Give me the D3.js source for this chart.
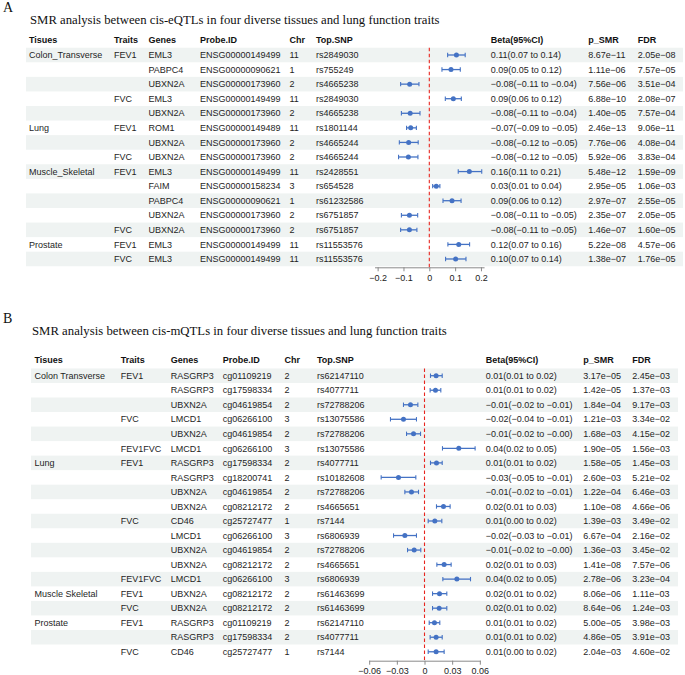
<!DOCTYPE html>
<html>
<head>
<meta charset="utf-8">
<script src="https://cdn.jsdelivr.net/npm/d3@7/dist/d3.min.js"></script>
<style>
  html, body { margin: 0; padding: 0; background: #ffffff; }
  svg { display: block; }
</style>
</head>
<body>
<svg id="chart" width="685" height="675"></svg>
<script>
// ---------------- Panel A data (cis-eQTLs) ----------------
const headersA = ["Tisues", "Traits", "Genes", "Probe.ID", "Chr", "Top.SNP", "Beta(95%CI)", "p_SMR", "FDR"];
const tissuesA = ["Colon_Transverse", "", "", "", "", "Lung", "", "", "Muscle_Skeletal", "", "", "", "", "Prostate", ""];
const traitsA  = ["FEV1", "", "", "FVC", "", "FEV1", "", "FVC", "FEV1", "", "", "", "FVC", "FEV1", "FVC"];
const genesA   = ["EML3", "PABPC4", "UBXN2A", "EML3", "UBXN2A", "ROM1", "UBXN2A", "UBXN2A", "EML3", "FAIM", "PABPC4", "UBXN2A", "UBXN2A", "EML3", "EML3"];
const probesA  = ["ENSG00000149499", "ENSG00000090621", "ENSG00000173960", "ENSG00000149499", "ENSG00000173960",
                  "ENSG00000149489", "ENSG00000173960", "ENSG00000173960", "ENSG00000149499", "ENSG00000158234",
                  "ENSG00000090621", "ENSG00000173960", "ENSG00000173960", "ENSG00000149499", "ENSG00000149499"];
const chrA     = ["11", "1", "2", "11", "2", "11", "2", "2", "11", "3", "1", "2", "2", "11", "11"];
const snpsA    = ["rs2849030", "rs755249", "rs4665238", "rs2849030", "rs4665238", "rs1801144", "rs4665244", "rs4665244",
                  "rs2428551", "rs654528", "rs61232586", "rs6751857", "rs6751857", "rs11553576", "rs11553576"];
const betaA    = [0.105, 0.084, -0.076, 0.093, -0.074, -0.072, -0.080, -0.081, 0.155, 0.027, 0.088, -0.077, -0.077, 0.114, 0.102];
const lowerA   = [0.071, 0.049, -0.111, 0.062, -0.108, -0.088, -0.116, -0.119, 0.112, 0.013, 0.053, -0.108, -0.111, 0.072, 0.063];
const upperA   = [0.139, 0.120, -0.040, 0.124, -0.036, -0.050, -0.043, -0.044, 0.203, 0.041, 0.123, -0.045, -0.048, 0.156, 0.142];
const betaTextA = ["0.11(0.07 to 0.14)", "0.09(0.05 to 0.12)", "−0.08(−0.11 to −0.04)", "0.09(0.06 to 0.12)", "−0.08(−0.11 to −0.04)",
                   "−0.07(−0.09 to −0.05)", "−0.08(−0.12 to −0.05)", "−0.08(−0.12 to −0.05)", "0.16(0.11 to 0.21)", "0.03(0.01 to 0.04)",
                   "0.09(0.06 to 0.12)", "−0.08(−0.11 to −0.05)", "−0.08(−0.11 to −0.05)", "0.12(0.07 to 0.16)", "0.10(0.07 to 0.14)"];
const pA   = ["8.67e−11", "1.11e−06", "7.56e−06", "6.88e−10", "1.40e−05", "2.46e−13", "7.76e−06", "5.92e−06",
              "5.48e−12", "2.95e−05", "2.97e−07", "2.35e−07", "1.46e−07", "5.22e−08", "1.38e−07"];
const fdrA = ["2.05e−08", "7.57e−05", "3.51e−04", "2.08e−07", "7.57e−04", "9.06e−11", "4.08e−04", "3.83e−04",
              "1.59e−09", "1.06e−03", "2.55e−05", "2.05e−05", "1.60e−05", "4.57e−06", "1.76e−05"];
const ticksA = [-0.2, -0.1, 0, 0.1, 0.2];

// ---------------- Panel B data (cis-mQTLs) ----------------
const headersB = ["Tisues", "Traits", "Genes", "Probe.ID", "Chr", "Top.SNP", "Beta(95%CI)", "p_SMR", "FDR"];
const tissuesB = ["Colon Transverse", "", "", "", "", "", "Lung", "", "", "", "", "", "", "", "", "Muscle Skeletal", "", "Prostate", "", ""];
const traitsB  = ["FEV1", "", "", "FVC", "", "FEV1FVC", "FEV1", "", "", "", "FVC", "", "", "", "FEV1FVC", "FEV1", "FVC", "FEV1", "", "FVC"];
const genesB   = ["RASGRP3", "RASGRP3", "UBXN2A", "LMCD1", "UBXN2A", "LMCD1", "RASGRP3", "RASGRP3", "UBXN2A", "UBXN2A",
                  "CD46", "LMCD1", "UBXN2A", "UBXN2A", "LMCD1", "UBXN2A", "UBXN2A", "RASGRP3", "RASGRP3", "CD46"];
const probesB  = ["cg01109219", "cg17598334", "cg04619854", "cg06266100", "cg04619854", "cg06266100", "cg17598334", "cg18200741",
                  "cg04619854", "cg08212172", "cg25727477", "cg06266100", "cg04619854", "cg08212172", "cg06266100", "cg08212172",
                  "cg08212172", "cg01109219", "cg17598334", "cg25727477"];
const chrB     = ["2", "2", "2", "3", "2", "3", "2", "2", "2", "2", "1", "3", "2", "2", "3", "2", "2", "2", "2", "1"];
const snpsB    = ["rs62147110", "rs4077711", "rs72788206", "rs13075586", "rs72788206", "rs13075586", "rs4077711", "rs10182608",
                  "rs72788206", "rs4665651", "rs7144", "rs6806939", "rs72788206", "rs4665651", "rs6806939", "rs61463699",
                  "rs61463699", "rs62147110", "rs4077711", "rs7144"];
const betaB    = [0.0126, 0.0119, -0.0152, -0.0228, -0.0119, 0.0372, 0.0130, -0.0282, -0.0141, 0.0206,
                  0.0112, -0.0213, -0.0112, 0.0213, 0.0351, 0.0163, 0.0159, 0.0108, 0.0126, 0.0126];
const lowerB   = [0.0065, 0.0061, -0.0228, -0.0369, -0.0195, 0.0195, 0.0065, -0.0470, -0.0213, 0.0130,
                  0.0040, -0.0336, -0.0184, 0.0134, 0.0199, 0.0087, 0.0087, 0.0051, 0.0061, 0.0040];
const upperB   = [0.0192, 0.0177, -0.0072, -0.0087, -0.0043, 0.0549, 0.0192, -0.0094, -0.0065, 0.0278,
                  0.0188, -0.0087, -0.0040, 0.0289, 0.0499, 0.0242, 0.0242, 0.0166, 0.0192, 0.0213];
const betaTextB = ["0.01(0.01 to 0.02)", "0.01(0.01 to 0.02)", "−0.01(−0.02 to −0.01)", "−0.02(−0.04 to −0.01)", "−0.01(−0.02 to −0.00)",
                   "0.04(0.02 to 0.05)", "0.01(0.01 to 0.02)", "−0.03(−0.05 to −0.01)", "−0.01(−0.02 to −0.01)", "0.02(0.01 to 0.03)",
                   "0.01(0.00 to 0.02)", "−0.02(−0.03 to −0.01)", "−0.01(−0.02 to −0.00)", "0.02(0.01 to 0.03)", "0.04(0.02 to 0.05)",
                   "0.02(0.01 to 0.02)", "0.02(0.01 to 0.02)", "0.01(0.01 to 0.02)", "0.01(0.01 to 0.02)", "0.01(0.00 to 0.02)"];
const pB   = ["3.17e−05", "1.42e−05", "1.84e−04", "1.21e−03", "1.68e−03", "1.90e−05", "1.58e−05", "2.60e−03", "1.22e−04", "1.10e−08",
              "1.39e−03", "6.67e−04", "1.36e−03", "1.41e−08", "2.78e−06", "8.06e−06", "8.64e−06", "5.00e−05", "4.86e−05", "2.04e−03"];
const fdrB = ["2.45e−03", "1.37e−03", "9.17e−03", "3.34e−02", "4.15e−02", "1.56e−03", "1.45e−03", "5.21e−02", "6.46e−03", "4.66e−06",
              "3.49e−02", "2.16e−02", "3.45e−02", "7.57e−06", "3.23e−04", "1.11e−03", "1.24e−03", "3.98e−03", "3.91e−03", "4.60e−02"];
const ticksB = [-0.06, -0.03, 0, 0.03, 0.06];

const titleA = "SMR analysis between cis-eQTLs in four diverse tissues and lung function traits";
const titleB = "SMR analysis between cis-mQTLs in four diverse tissues and lung function traits";

// ---------------- drawing ----------------
const svg = d3.select("#chart");
svg.append("rect").attr("width", 685).attr("height", 675).attr("fill", "#ffffff");

const SANS = "'Liberation Sans', Arial, Helvetica, sans-serif";
const SERIF = "'Liberation Serif', 'Times New Roman', Times, serif";
const BAND = "#eff3f2";
const BLUE = "#4472c4";
const TEXT = "#1e1e1e";

function drawPanel(p) {
  const g = svg.append("g");
  const n = p.genes.length;

  // panel letter
  g.append("text").attr("x", p.letterX).attr("y", p.letterY)
    .attr("font-family", SERIF).attr("font-size", 14).attr("fill", "#111").text(p.letter);

  // title, fitted to measured width
  const t = g.append("text").attr("x", p.titleX).attr("y", p.titleY)
    .attr("font-family", SERIF).attr("font-size", 12).attr("fill", "#111").text(p.title);
  const w = t.node().getComputedTextLength();
  t.attr("font-size", 12 * p.titleW / w);

  // row scale
  const y = d3.scaleBand().domain(d3.range(n))
    .range([p.row0 - p.rowH / 2, p.row0 - p.rowH / 2 + n * p.rowH]).paddingInner(0).paddingOuter(0);
  const yc = i => y(i) + y.bandwidth() / 2;

  // bands
  g.append("g").selectAll("rect").data(d3.range(n).filter(i => i % 2 === 0)).join("rect")
    .attr("x", p.bandX0).attr("width", p.bandX1 - p.bandX0)
    .attr("y", i => y(i)).attr("height", y.bandwidth())
    .attr("fill", BAND);

  // columns
  const cols = [
    { x: p.colX[0], vals: p.tissues },
    { x: p.colX[1], vals: p.traits },
    { x: p.colX[2], vals: p.genes },
    { x: p.colX[3], vals: p.probes },
    { x: p.colX[4], vals: p.chr },
    { x: p.colX[5], vals: p.snps },
    { x: p.colX[6], vals: p.betaText },
    { x: p.colX[7], vals: p.pvals },
    { x: p.colX[8], vals: p.fdr }
  ];
  cols.forEach((c, ci) => {
    g.append("text").attr("x", c.x).attr("y", p.headerY).attr("dy", "0.35em")
      .attr("font-family", SANS).attr("font-size", 9).attr("font-weight", "bold")
      .attr("fill", "#111").text(p.headers[ci]);
    g.append("g").selectAll("text").data(c.vals).join("text")
      .attr("x", c.x).attr("y", (d, i) => yc(i)).attr("dy", "0.35em")
      .attr("font-family", SANS).attr("font-size", 9).attr("fill", TEXT)
      .text(d => d);
  });

  // x scale
  const x = d3.scaleLinear().domain(p.domain).range(p.range);

  // reference line
  g.append("line").attr("x1", x(0)).attr("x2", x(0))
    .attr("y1", y(0)).attr("y2", p.axisY)
    .attr("stroke", "#e8251f").attr("stroke-width", 1.1).attr("stroke-dasharray", "3.5,2.5");

  // CIs
  const ci = g.append("g");
  const idx = d3.range(n);
  ci.selectAll("line.ci").data(idx).join("line").attr("class", "ci")
    .attr("x1", i => x(p.lower[i])).attr("x2", i => x(p.upper[i]))
    .attr("y1", yc).attr("y2", yc)
    .attr("stroke", BLUE).attr("stroke-width", 1.3);
  ci.selectAll("line.capl").data(idx).join("line").attr("class", "capl")
    .attr("x1", i => x(p.lower[i])).attr("x2", i => x(p.lower[i]))
    .attr("y1", i => yc(i) - 2.2).attr("y2", i => yc(i) + 2.2)
    .attr("stroke", BLUE).attr("stroke-width", 1.1);
  ci.selectAll("line.capu").data(idx).join("line").attr("class", "capu")
    .attr("x1", i => x(p.upper[i])).attr("x2", i => x(p.upper[i]))
    .attr("y1", i => yc(i) - 2.2).attr("y2", i => yc(i) + 2.2)
    .attr("stroke", BLUE).attr("stroke-width", 1.1);
  ci.selectAll("circle").data(idx).join("circle")
    .attr("cx", i => x(p.beta[i])).attr("cy", yc).attr("r", 2.5)
    .attr("fill", BLUE);

  // axis
  const ax = g.append("g").attr("transform", `translate(0,${p.axisY})`)
    .call(d3.axisBottom(x).tickValues(p.ticks).tickFormat(d3.format("~g")).tickSize(4).tickSizeOuter(0).tickPadding(3));
  ax.select(".domain").attr("stroke", "#8a8a8a").attr("stroke-width", 1);
  ax.selectAll(".tick line").attr("stroke", "#8a8a8a");
  ax.selectAll(".tick text").attr("font-family", SANS).attr("font-size", 9).attr("fill", "#222");
}

drawPanel({
  letter: "A", letterX: 3, letterY: 12,
  title: titleA, titleX: 30, titleY: 23.5, titleW: 410,
  headers: headersA, headerY: 40,
  row0: 55, rowH: 14.57, bandX0: 26, bandX1: 683,
  colX: [29, 114, 148.5, 200, 289.5, 316, 490.7, 588.3, 637.7],
  tissues: tissuesA, traits: traitsA, genes: genesA, probes: probesA, chr: chrA, snps: snpsA,
  betaText: betaTextA, pvals: pA, fdr: fdrA,
  beta: betaA, lower: lowerA, upper: upperA,
  domain: [-0.212, 0.212], range: [429.3 - 0.212 * 258.3, 429.3 + 0.212 * 258.3],
  ticks: ticksA, axisY: 267.3
});

drawPanel({
  letter: "B", letterX: 3, letterY: 322.5,
  title: titleB, titleX: 32, titleY: 335, titleW: 415,
  headers: headersB, headerY: 360,
  row0: 375.7, rowH: 14.53, bandX0: 31, bandX1: 678,
  colX: [34.5, 120.7, 170.7, 222.7, 284.5, 317, 485.7, 583.3, 632.3],
  tissues: tissuesB, traits: traitsB, genes: genesB, probes: probesB, chr: chrB, snps: snpsB,
  betaText: betaTextB, pvals: pB, fdr: fdrB,
  beta: betaB, lower: lowerB, upper: upperB,
  domain: [-0.0605, 0.0605], range: [424.5 - 0.0605 * 922, 424.5 + 0.0605 * 922],
  ticks: ticksB, axisY: 660.7
});
</script>
</body>
</html>
